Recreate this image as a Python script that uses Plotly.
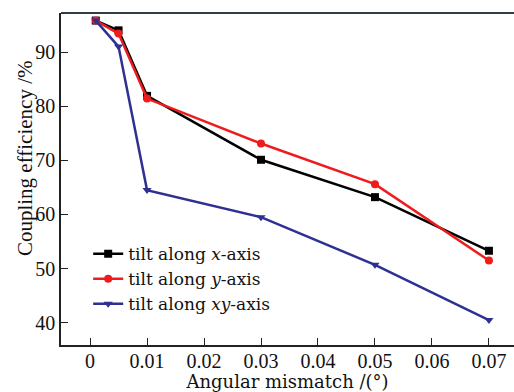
import plotly.graph_objects as go

x_vals = [0.001, 0.005, 0.01, 0.03, 0.05, 0.07]
tilt_x = [95.8, 94.0, 81.9, 70.1, 63.2, 53.3]
tilt_y = [95.8, 93.4, 81.4, 73.1, 65.6, 51.5]
tilt_xy = [95.8, 91.0, 64.5, 59.5, 50.7, 40.5]
series_names = ["tilt along <i>x</i>-axis", "tilt along <i>y</i>-axis", "tilt along <i>xy</i>-axis"]
x_ticks = [0, 0.01, 0.02, 0.03, 0.04, 0.05, 0.06, 0.07]
x_tick_labels = ["0", "0.01", "0.02", "0.03", "0.04", "0.05", "0.06", "0.07"]
y_ticks = [40, 50, 60, 70, 80, 90]
x_title = "Angular mismatch /(°)"
y_title = "Coupling efficiency /%"

tick_font = dict(family="Liberation Serif", size=20, color="#111111")
wide_font = dict(family="DejaVu Serif", size=18, color="#111111")
legend_font = dict(family="DejaVu Serif", size=17, color="#111111")

fig = go.Figure()
styles = [
    ("#000000", "square", 8),
    ("#ee1c1c", "circle", 8),
    ("#2e3192", "triangle-down", 8),
]
for name, ys, (col, sym, sz) in zip(series_names, [tilt_x, tilt_y, tilt_xy], styles):
    fig.add_trace(go.Scatter(
        x=x_vals, y=ys, name=name, mode="lines+markers",
        line=dict(color=col, width=2.5),
        marker=dict(color=col, symbol=sym, size=sz),
    ))

fig.update_layout(
    width=514, height=392,
    margin=dict(l=61, r=0, t=13, b=47, autoexpand=False),
    plot_bgcolor="white", paper_bgcolor="white",
    font=tick_font,
    showlegend=True,
    legend=dict(x=0.06, y=0.328, xanchor="left", yanchor="top",
                bgcolor="rgba(0,0,0,0)", font=legend_font,
                tracegroupgap=0),
    xaxis=dict(range=[-0.0051, 0.0744], tickvals=x_ticks, ticktext=x_tick_labels,
               ticks="inside", ticklen=7, tickcolor="#222", showline=True,
               linecolor="#222", linewidth=1.5, showgrid=False, zeroline=False,
               automargin=False, tickfont=tick_font, ticklabelstandoff=-3,
               title=dict(text=x_title, standoff=0, font=wide_font)),
    yaxis=dict(range=[35.9, 97.2], tickvals=y_ticks,
               ticks="inside", ticklen=7, tickcolor="#222", showline=True,
               linecolor="#222", linewidth=1.5, showgrid=False, zeroline=False,
               automargin=False, tickfont=tick_font),
    annotations=[dict(text=y_title, xref="paper", yref="paper", x=-0.0795, y=0.563,
                      xanchor="center", yanchor="middle", textangle=-90, showarrow=False,
                      font=dict(family="Liberation Serif", size=21, color="#111111"))],
    shapes=[dict(type="line", xref="paper", yref="paper", x0=0, x1=1, y0=1, y1=1,
                 line=dict(color="#333a44", width=2))],
)

fig.write_html("out.html", config={"displayModeBar": False},
               post_script="document.body.style.margin='0';document.body.style.overflow='hidden';")
